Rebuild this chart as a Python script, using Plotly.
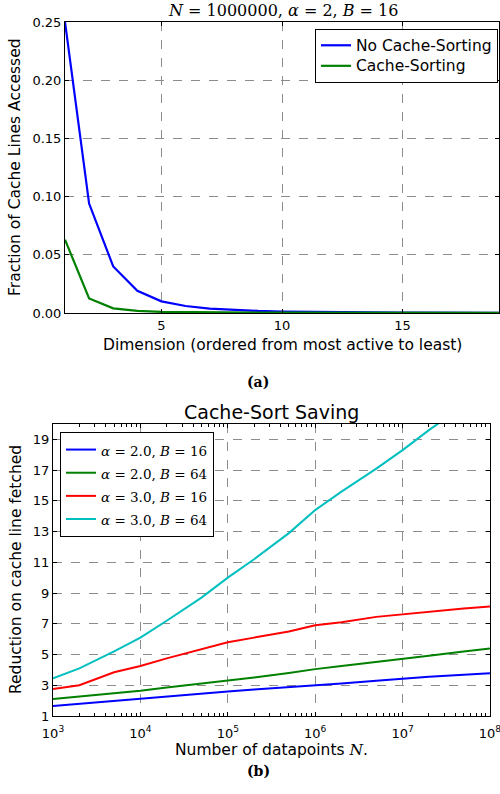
import plotly.graph_objects as go

# ---------- data (a) ----------
dims = list(range(1, 20))
no_sort = [0.250, 0.094, 0.040, 0.019, 0.010, 0.006, 0.0038, 0.0026, 0.0018, 0.0013,
           0.0010, 0.0008, 0.0006, 0.0005, 0.0004, 0.00035, 0.0003, 0.00025, 0.0002]
with_sort = [0.063, 0.0125, 0.004, 0.0018, 0.0010, 0.0007, 0.0005, 0.0004, 0.0003, 0.00025,
             0.0002, 0.00018, 0.00015, 0.00013, 0.00012, 0.0001, 0.0001, 0.00009, 0.00008]
xticks_a = [5, 10, 15]
yticks_a = [0, 0.05, 0.10, 0.15, 0.20, 0.25]

# ---------- data (b) ----------
n_points = [1e3, 2e3, 5e3, 1e4, 2e4, 5e4, 1e5, 2e5, 5e5, 1e6, 2e6, 5e6, 1e7, 2e7, 5e7, 1e8]
a2_b16 = [1.65, 1.80, 1.97, 2.10, 2.25, 2.45, 2.60, 2.72, 2.87, 3.00, 3.12, 3.30, 3.43, 3.55, 3.68, 3.78]
a2_b64 = [2.10, 2.25, 2.45, 2.64, 2.85, 3.10, 3.32, 3.50, 3.80, 4.05, 4.25, 4.50, 4.72, 4.92, 5.20, 5.40]
a3_b16 = [2.75, 3.00, 3.85, 4.25, 4.75, 5.35, 5.80, 6.10, 6.50, 6.90, 7.10, 7.45, 7.62, 7.80, 8.00, 8.12]
a3_b64 = [3.45, 4.10, 5.20, 6.10, 7.20, 8.70, 10.0, 11.2, 12.9, 14.4, 15.6, 17.1, 18.3, 19.6, 21.2, 22.3]
yticks_b = [1, 3, 5, 7, 9, 11, 13, 15, 17, 19]
xticks_b = [1e3, 1e4, 1e5, 1e6, 1e7, 1e8]
xticklabels_b = ["10<sup>3</sup>", "10<sup>4</sup>", "10<sup>5</sup>", "10<sup>6</sup>",
                 "10<sup>7</sup>", "10<sup>8</sup>"]

SANS = "DejaVu Sans"
SERIF = "DejaVu Serif"
LBL = 15.5


def lg(text, size, family):
    return f"<span style='font-size:{size}px;font-family:{family}'>{text}</span>"


fig = go.Figure()

fig.add_trace(go.Scatter(x=dims, y=no_sort, mode="lines", name=lg("No Cache-Sorting", LBL, SANS),
                         line=dict(color="#0000ff", width=2.2), xaxis="x", yaxis="y", legend="legend"))
fig.add_trace(go.Scatter(x=dims, y=with_sort, mode="lines", name=lg("Cache-Sorting", LBL, SANS),
                         line=dict(color="#008000", width=2.2), xaxis="x", yaxis="y", legend="legend"))

series_b = [
    (a2_b16, "#0000ff", "<i>α</i> = 2.0, <i>B</i> = 16"),
    (a2_b64, "#008000", "<i>α</i> = 2.0, <i>B</i> = 64"),
    (a3_b16, "#ff0000", "<i>α</i> = 3.0, <i>B</i> = 16"),
    (a3_b64, "#00bfbf", "<i>α</i> = 3.0, <i>B</i> = 64"),
]
for vals, col, name in series_b:
    fig.add_trace(go.Scatter(x=n_points, y=vals, mode="lines", name=lg(name, 13.5, SERIF),
                             line=dict(color=col, width=2), xaxis="x2", yaxis="y2", legend="legend2"))

W, H = 500, 794
def px(x):
    return x / W
def py(y):
    return 1 - y / H

axis_common = dict(showline=True, mirror="ticks", linecolor="black", linewidth=1,
                   ticks="inside", ticklen=4, tickcolor="black", automargin=False,
                   showgrid=True, gridcolor="#8c8c8c", griddash="dash", gridwidth=1,
                   zeroline=False, tickfont=dict(family=SANS, size=13, color="black"))

def ann(text, x, y, size, family=SANS, angle=0):
    return dict(text=text, x=px(x), y=py(y), xref="paper", yref="paper", showarrow=False,
                xanchor="center", yanchor="middle", textangle=angle,
                font=dict(family=family, size=size, color="black"))

fig.update_layout(
    width=W, height=H, margin=dict(l=0, r=0, t=0, b=0, autoexpand=False),
    paper_bgcolor="white", plot_bgcolor="white",
    xaxis=dict(domain=[px(65), px(499)], range=[1, 19], tickvals=xticks_a, anchor="y",
               **axis_common),
    yaxis=dict(domain=[py(313), py(22)], range=[0, 0.25], tickvals=yticks_a,
               tickformat=".2f", anchor="x", **axis_common),
    xaxis2=dict(domain=[px(53), px(490)], type="log", range=[2.9999, 8.0001],
                tickvals=xticks_b, ticktext=xticklabels_b, anchor="y2", ticklabeloverflow="allow",
                ticklabelstandoff=5,
                minor=dict(ticks="inside", ticklen=3, tickcolor="black", dtick="D1", showgrid=False),
                **axis_common),
    yaxis2=dict(domain=[py(716), py(424)], range=[1, 20], tickvals=yticks_b, anchor="x2",
                **axis_common),
    legend=dict(x=px(498), y=py(29), xanchor="right", yanchor="top",
                bordercolor="black", borderwidth=1, bgcolor="white", itemwidth=30,
                font=dict(family=SANS, size=13.5, color="black"), tracegroupgap=0),
    legend2=dict(x=px(60), y=py(432), xanchor="left", yanchor="top",
                 bordercolor="black", borderwidth=1, bgcolor="white", itemwidth=30,
                 font=dict(family=SERIF, size=15.5, color="black"), tracegroupgap=0),
    annotations=[
        ann("<i>N</i> = 1000000, <i>α</i> = 2, <i>B</i> = 16", 283, 11, 16, SERIF),
        ann("Cache-Sort Saving", 271, 412, 19),
        ann("Dimension (ordered from most active to least)", 282, 345, LBL),
        ann("Fraction of Cache Lines Accessed", 15, 167, LBL, angle=-90),
        ann("Number of datapoints <i style='font-family:DejaVu Serif'>N</i>.", 271, 750, LBL),
        ann("Reduction on cache line fetched", 16, 570, LBL, angle=-90),
        ann("<b>(a)</b>", 258, 382, 14, SERIF),
        ann("<b>(b)</b>", 258, 771, 14, SERIF),
    ],
)

fig.write_html("out.html", config={"displayModeBar": False},
               post_script="document.body.style.margin='0';document.body.style.overflow='hidden';")
